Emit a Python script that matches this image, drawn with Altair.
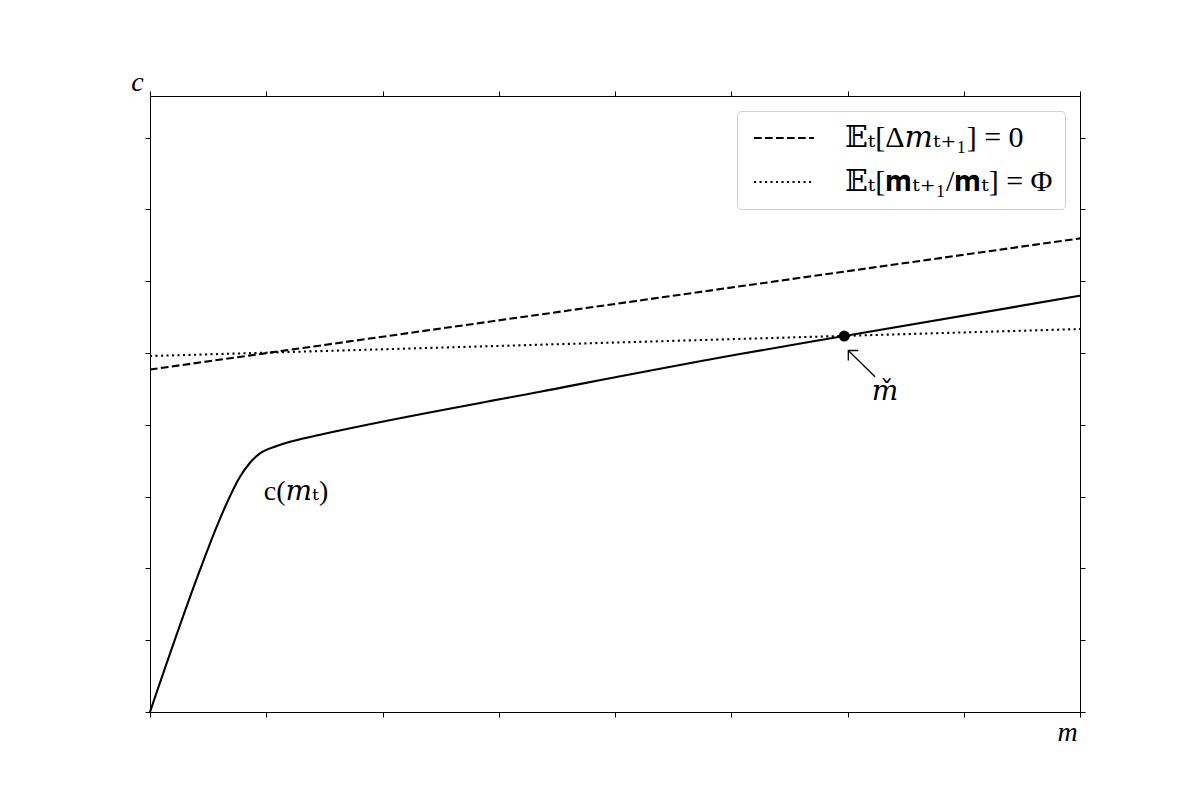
import altair as alt
import pandas as pd

# ---- data (axis units: 1 tick = 1 unit) ----
# consumption function c(m)
m_c = [0.0, 0.430, 0.574, 0.660, 0.774, 0.860, 0.946, 1.090,
       1.290, 1.491, 3.355, 5.075, 5.972, 8.0]
c_c = [0.0, 1.978, 2.581, 2.907, 3.277, 3.472, 3.603, 3.705,
       3.798, 3.872, 4.461, 4.986, 5.237, 5.798]

# the two loci (straight lines)
m_loci = [0.0, 8.0]
c_dm0 = [4.770, 6.597]     # E_t[Δm_{t+1}] = 0
c_phi = [4.958, 5.334]     # E_t[m_{t+1}/m_t] = Φ
series_names = ["𝔼ₜ[Δ𝑚ₜ₊₁] = 0", "𝔼ₜ[𝐦ₜ₊₁/𝐦ₜ] = Φ"]

# target point m-check
m_check = [5.972]
c_check = [5.237]

x_ticks = [0, 1, 2, 3, 4, 5, 6, 7, 8]
y_ticks = [0, 1, 2, 3, 4, 5, 6, 7, 8]
x_domain = [0, 8]
y_domain = [0, 8.58]

# annotations
label_cm_pos = [1.256, 3.064]
label_cm_text = ["c(𝑚ₜ)"]
label_check_pos = [6.323, 4.457]
label_check_text = ["𝑚̌"]
arrow_tail = [6.237, 4.670]
arrow_head = [6.007, 5.035]

FONT = "Liberation Serif, DejaVu Serif, DejaVu Sans"

# ---- tables ----
df_c = pd.DataFrame({"m": m_c, "c": c_c})
df_loci = pd.DataFrame({
    "m": m_loci + m_loci,
    "c": c_dm0 + c_phi,
    "series": [series_names[0]] * 2 + [series_names[1]] * 2,
})
df_pt = pd.DataFrame({"m": m_check, "c": c_check})
df_lab1 = pd.DataFrame({"m": [label_cm_pos[0]], "c": [label_cm_pos[1]], "t": label_cm_text})
df_lab2 = pd.DataFrame({"m": [label_check_pos[0]], "c": [label_check_pos[1]], "t": label_check_text})
df_arrow = pd.DataFrame({"m": [arrow_tail[0]], "c": [arrow_tail[1]],
                         "m2": [arrow_head[0]], "c2": [arrow_head[1]]})
df_head = pd.DataFrame({"m": [arrow_head[0]], "c": [arrow_head[1]]})

xs = alt.Scale(domain=x_domain, nice=False, zero=False)
ys = alt.Scale(domain=y_domain, nice=False, zero=False)

common = dict(labels=False, ticks=True, tickSize=5, tickColor="black", tickWidth=1,
              domainColor="black", domainWidth=1, grid=False)

ax_bottom = alt.Axis(orient="bottom", values=x_ticks, title="m", titleX=917, titleY=20,
                     titleAngle=0, titleAlign="center", titleBaseline="middle",
                     titleFont=FONT, titleFontSize=28, titleFontStyle="italic",
                     titleFontWeight="normal", titleColor="black", **common)
ax_left = alt.Axis(orient="left", values=y_ticks, title="c", titleX=-13, titleY=-14,
                   titleAngle=0, titleAlign="center", titleBaseline="middle",
                   titleFont=FONT, titleFontSize=28, titleFontStyle="italic",
                   titleFontWeight="normal", titleColor="black", **common)
ax_top = alt.Axis(orient="top", values=x_ticks, title=None, **common)
ax_right = alt.Axis(orient="right", values=y_ticks, title=None, **common)

LW = 2.08

cons = alt.Chart(df_c).mark_line(color="black", strokeWidth=LW, interpolate="monotone").encode(
    x=alt.X("m:Q", scale=xs, axis=ax_bottom),
    y=alt.Y("c:Q", scale=ys, axis=ax_left),
)

loci = alt.Chart(df_loci).mark_line(color="black", strokeWidth=LW).encode(
    x=alt.X("m:Q", scale=xs, axis=None),
    y=alt.Y("c:Q", scale=ys, axis=None),
    strokeDash=alt.StrokeDash(
        "series:N",
        scale=alt.Scale(domain=series_names, range=[[7.7, 3.3], [2.1, 3.4]]),
        legend=alt.Legend(
            title=None, orient="top-right", offset=15, padding=12,
            symbolType="M-1,0L5,0", symbolSize=400, symbolStrokeWidth=LW,
            symbolStrokeColor="black", symbolOffset=0, labelOffset=66,
            labelFont=FONT, labelFontSize=30, labelColor="black", labelLimit=500,
            rowPadding=14, strokeColor="#d0d0d0", fillColor="white", cornerRadius=4,
        ),
    ),
    detail="series:N",
)

pt = alt.Chart(df_pt).mark_point(filled=True, color="black", size=120, opacity=1).encode(
    x=alt.X("m:Q", scale=xs, axis=ax_top),
    y=alt.Y("c:Q", scale=ys, axis=ax_right),
)

shaft = alt.Chart(df_arrow).mark_rule(color="black", strokeWidth=1.3).encode(
    x=alt.X("m:Q", scale=xs, axis=None),
    y=alt.Y("c:Q", scale=ys, axis=None),
    x2="m2:Q", y2="c2:Q",
)
head = alt.Chart(df_head).mark_point(shape="M1,0L0,0L0,1", filled=False, size=400,
                                     color="black", strokeWidth=1.3, opacity=1).encode(
    x=alt.X("m:Q", scale=xs, axis=None),
    y=alt.Y("c:Q", scale=ys, axis=None),
)

lab1 = alt.Chart(df_lab1).mark_text(font=FONT, fontSize=28, color="black",
                                    align="center", baseline="middle").encode(
    x=alt.X("m:Q", scale=xs, axis=None),
    y=alt.Y("c:Q", scale=ys, axis=None),
    text="t:N",
)
lab2 = alt.Chart(df_lab2).mark_text(font=FONT, fontSize=28, color="black",
                                    align="center", baseline="middle").encode(
    x=alt.X("m:Q", scale=xs, axis=None),
    y=alt.Y("c:Q", scale=ys, axis=None),
    text="t:N",
)

chart = alt.layer(cons, loci, shaft, head, pt, lab1, lab2).resolve_axis(
    x="independent", y="independent"
).properties(
    width=930, height=616,
    autosize=alt.AutoSizeParams(type="none"),
    padding={"left": 142, "top": 88, "right": 112, "bottom": 80},
).configure_view(stroke=None).configure(background="white")

chart.save("out.html", embed_options={"renderer": "svg", "actions": False})
